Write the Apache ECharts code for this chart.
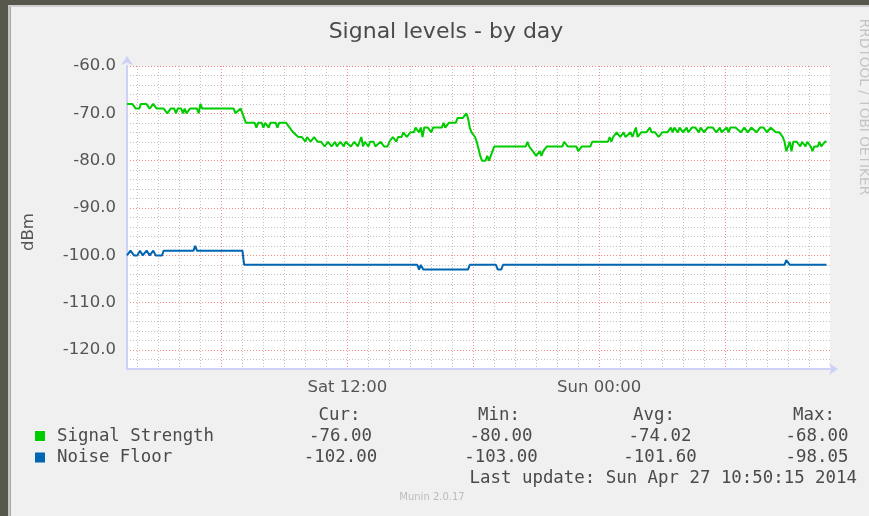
<!DOCTYPE html>
<html><head><meta charset="utf-8">
<script src="https://cdn.jsdelivr.net/npm/echarts@6/dist/echarts.min.js"></script>
<style>
html,body{margin:0;padding:0;background:#57584b;overflow:hidden;}
#panel{position:absolute;left:8px;top:5px;width:870px;height:520px;background:#f0f0f0;border-top:2px solid #cfcfcf;border-left:2px solid #c4c4c4;box-shadow:inset 1px 0 0 #a9a9a9;}
#c{position:absolute;left:0;top:0;width:869px;height:516px;}
</style>
</head><body><div id="panel"></div><div id="c"></div>
<script>
// time in minutes since Sat 00:00
const signalTimes = [90,105,115,125,130,145,155,160,165,175,180,185,195,205,215,225,230,235,245,250,255,260,270,290,295,300,305,395,400,405,415,420,430,440,455,460,465,475,480,485,495,500,515,520,525,545,555,565,580,590,600,605,615,625,635,645,655,665,675,685,690,700,710,715,730,740,750,755,760,765,770,780,785,795,800,815,825,835,840,850,860,865,875,880,890,900,910,915,925,930,935,940,950,960,965,980,990,995,1000,1010,1020,1030,1035,1050,1055,1060,1065,1070,1075,1085,1090,1100,1105,1115,1120,1125,1135,1140,1150,1160,1170,1185,1200,1215,1230,1235,1240,1250,1255,1260,1270,1275,1280,1290,1305,1320,1335,1340,1350,1360,1375,1380,1390,1400,1415,1420,1425,1440,1455,1465,1470,1475,1480,1490,1500,1510,1515,1530,1535,1545,1550,1560,1575,1585,1590,1600,1610,1620,1635,1645,1650,1655,1665,1670,1680,1690,1695,1705,1715,1725,1730,1740,1750,1765,1770,1775,1785,1790,1805,1810,1815,1830,1845,1855,1865,1875,1890,1900,1910,1920,1930,1935,1945,1955,1965,1970,1975,1985,1990,1995,2005,2015,2020,2030,2035,2045,2050,2055,2065,2070,2075,2085,2090];
const signalValues = [-68,-68,-69,-69,-68,-68,-69,-69,-68,-69,-69,-69,-69,-70,-69,-69,-70,-69,-69,-70,-69,-70,-69,-69,-70,-68,-69,-69,-70,-70,-69,-69,-72,-72,-72,-73,-72,-72,-73,-72,-73,-72,-72,-73,-72,-72,-73,-74,-75,-75,-76,-75,-76,-75,-76,-76,-77,-76,-77,-76,-77,-76,-77,-76,-77,-76,-77,-76,-75,-77,-76,-77,-76,-76,-77,-76,-77,-77,-76,-75,-76,-75,-75,-74,-75,-74,-74,-73,-74,-73,-75,-73,-73,-74,-73,-73,-73,-72,-73,-72,-72,-72,-71,-71,-71,-70,-71,-73,-74,-75,-76,-79,-80,-80,-79,-80,-78,-77,-77,-77,-77,-77,-77,-77,-77,-76,-77,-78,-78,-79,-78,-79,-78,-77,-77,-77,-77,-76,-77,-77,-77,-78,-77,-77,-77,-76,-76,-76,-76,-76,-75,-76,-75,-74,-75,-74,-75,-74,-75,-73,-75,-74,-74,-73,-74,-74,-75,-74,-74,-73,-74,-73,-74,-73,-74,-73,-74,-73,-73,-74,-73,-74,-73,-73,-73,-74,-73,-74,-73,-74,-73,-73,-74,-73,-74,-73,-74,-73,-73,-74,-73,-73,-74,-74,-75,-76,-78,-76,-78,-76,-76,-77,-76,-77,-76,-77,-78,-77,-77,-76,-77,-76,-76];
const noiseTimes = [90,100,110,120,127,135,146,155,165,172,190,195,280,285,290,420,425,920,925,930,937,1065,1070,1145,1150,1160,1165,1970,1975,1985,2090];
const noiseValues = [-100,-99,-100,-100,-99,-100,-99,-100,-99,-100,-100,-99,-99,-98,-99,-99,-102,-102,-103,-102,-103,-103,-102,-102,-103,-103,-102,-102,-101,-102,-102];
const xLabels = {720: 'Sat 12:00', 1440: 'Sun 00:00'};
const seriesNames = ['Signal Strength', 'Noise Floor'];
const seriesColors = ['#00cc00', '#0066b3'];
const statHeaders = ['Cur:', 'Min:', 'Avg:', 'Max:'];
const signalStats = ['-76.00', '-80.00', '-74.02', '-68.00'];
const noiseStats = ['-102.00', '-103.00', '-101.60', '-98.05'];
const lastUpdate = 'Last update: Sun Apr 27 10:50:15 2014';

const chart = echarts.init(document.getElementById('c'), null, {renderer: 'canvas'});
const G = '#c2c2c2', R = 'rgba(255,60,60,0.6)', T = 'rgba(0,0,0,0)';
const mono = 'DejaVu Sans Mono';
const sans = 'DejaVu Sans';
const headX = [339.5, 499, 654, 814];
const valX = [340.5, 501, 660, 817];
const g = [];
g.push({type: 'text', style: {text: 'Signal levels - by day', x: 446, y: 32, textAlign: 'center', textVerticalAlign: 'middle', font: '22px "DejaVu Sans"', fill: '#4a4a4a'}});
g.push({type: 'text', rotation: Math.PI / 2, x: 29, y: 232, style: {text: 'dBm', x: 0, y: 0, textAlign: 'center', textVerticalAlign: 'middle', font: '16.5px "DejaVu Sans"', fill: '#555'}});
g.push({type: 'text', rotation: -Math.PI / 2, x: 864, y: 107, style: {text: 'RRDTOOL / TOBI OETIKER', x: 0, y: 0, textAlign: 'center', textVerticalAlign: 'middle', font: '13.7px "DejaVu Sans"', fill: '#c4c4c4'}});
statHeaders.forEach((h, i) => g.push({type: 'text', style: {text: h, x: headX[i], y: 415, textAlign: 'center', textVerticalAlign: 'middle', font: '17.4px "' + mono + '"', fill: '#4a4a4a'}}));
[signalStats, noiseStats].forEach((row, r) => {
  g.push({type: 'rect', shape: {x: 35, y: 431 + r * 21.5, width: 10, height: 10}, style: {fill: seriesColors[r]}});
  g.push({type: 'text', style: {text: seriesNames[r], x: 57, y: 436 + r * 21.5, textAlign: 'left', textVerticalAlign: 'middle', font: '17.4px "' + mono + '"', fill: '#4a4a4a'}});
  row.forEach((v, i) => g.push({type: 'text', style: {text: v, x: valX[i], y: 436 + r * 21.5, textAlign: 'center', textVerticalAlign: 'middle', font: '17.4px "' + mono + '"', fill: '#4a4a4a'}}));
});
g.push({type: 'text', style: {text: lastUpdate, x: 857, y: 478, textAlign: 'right', textVerticalAlign: 'middle', font: '17.4px "' + mono + '"', fill: '#4a4a4a'}});
g.push({type: 'text', style: {text: 'Munin 2.0.17', x: 432, y: 497, textAlign: 'center', textVerticalAlign: 'middle', font: '10px "DejaVu Sans"', fill: '#bbbbbb'}});

chart.setOption({
  backgroundColor: 'transparent',
  animation: false,
  grid: {left: 127, right: 39, top: 66, bottom: 147, show: true, backgroundColor: '#ffffff', borderWidth: 0},
  xAxis: {
    type: 'value', min: 90, max: 2100, interval: 30,
    axisLine: {show: true, lineStyle: {color: '#cdd1f7', width: 2}, symbol: ['none', 'arrow'], symbolSize: [9, 9], symbolOffset: [0, 8]},
    axisTick: {show: false},
    axisLabel: {formatter: v => xLabels[v] || '', color: '#555', fontFamily: sans, fontSize: 16.5, margin: 10, hideOverlap: false},
    splitLine: {show: true, showMaxLine: false, lineStyle: {color: [T, G, T, G, T, G, T, G, T, R, T, G], type: [1, 2], width: 1}}
  },
  yAxis: {
    type: 'value', min: -124, max: -60, interval: 2,
    axisLine: {show: true, onZero: false, lineStyle: {color: '#cdd1f7', width: 2}, symbol: ['none', 'arrow'], symbolSize: [9, 9], symbolOffset: [0, 10]},
    axisTick: {show: false},
    axisLabel: {formatter: v => (v % 10 === 0 ? v.toFixed(1) : ''), color: '#555', fontFamily: sans, fontSize: 16.5, margin: 11, showMaxLabel: true},
    splitLine: {show: true, lineStyle: {color: [G, G, R, G, G], type: [1, 2], width: 1}}
  },
  series: [
    {name: seriesNames[0], type: 'line', showSymbol: false, data: signalTimes.map((t, i) => [t, signalValues[i]]), lineStyle: {color: seriesColors[0], width: 2}, z: 5},
    {name: seriesNames[1], type: 'line', showSymbol: false, data: noiseTimes.map((t, i) => [t, noiseValues[i]]), lineStyle: {color: seriesColors[1], width: 2}, z: 4}
  ],
  graphic: g
});
</script>
</body></html>
